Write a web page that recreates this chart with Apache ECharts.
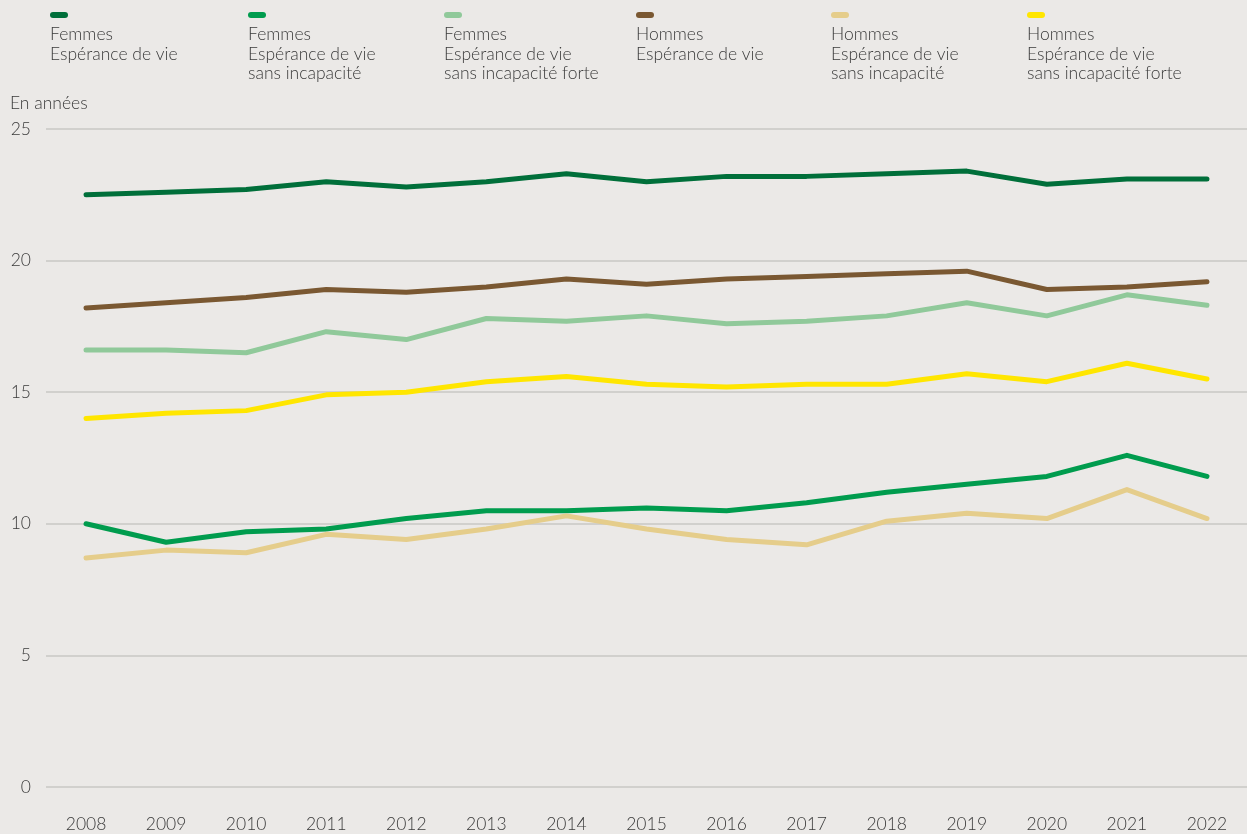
<!DOCTYPE html>
<html><head><meta charset="utf-8">
<script src="https://cdn.jsdelivr.net/npm/echarts@6/dist/echarts.min.js"></script>
<style>html,body{margin:0;padding:0;background:#ebe9e7}#c{width:1247px;height:834px}</style>
</head><body><div id="c"></div>
<script>
const years = ['2008','2009','2010','2011','2012','2013','2014','2015','2016','2017','2018','2019','2020','2021','2022'];
const seriesNames = [
  'Femmes\nEspérance de vie',
  'Femmes\nEspérance de vie\nsans incapacité',
  'Femmes\nEspérance de vie\nsans incapacité forte',
  'Hommes\nEspérance de vie',
  'Hommes\nEspérance de vie\nsans incapacité',
  'Hommes\nEspérance de vie\nsans incapacité forte'
];
const femmesEV     = [22.5,22.6,22.7,23.0,22.8,23.0,23.3,23.0,23.2,23.2,23.3,23.4,22.9,23.1,23.1];
const femmesEVSI   = [10.0,9.3,9.7,9.8,10.2,10.5,10.5,10.6,10.5,10.8,11.2,11.5,11.8,12.6,11.8];
const femmesEVSIF  = [16.6,16.6,16.5,17.3,17.0,17.8,17.7,17.9,17.6,17.7,17.9,18.4,17.9,18.7,18.3];
const hommesEV     = [18.2,18.4,18.6,18.9,18.8,19.0,19.3,19.1,19.3,19.4,19.5,19.6,18.9,19.0,19.2];
const hommesEVSI   = [8.7,9.0,8.9,9.6,9.4,9.8,10.3,9.8,9.4,9.2,10.1,10.4,10.2,11.3,10.2];
const hommesEVSIF  = [14.0,14.2,14.3,14.9,15.0,15.4,15.6,15.3,15.2,15.3,15.3,15.7,15.4,16.1,15.5];
const yTicks = [0,5,10,15,20,25];
const unitLabel = 'En années';

const colors = ['#006f3a','#009c4e','#90c99a','#7a5832','#e5cd8b','#ffe600'];
const dataSets = [femmesEV, femmesEVSI, femmesEVSIF, hommesEV, hommesEVSI, hommesEVSIF];
const legendX = [50,248,444,636,831,1027];
const font = 'Lato, "Open Sans", sans-serif';
const textColor = '#3a3a3a';

const graphics = [];
seriesNames.forEach((n,i)=>{
  graphics.push({type:'rect', left:legendX[i], top:12, shape:{width:18,height:6,r:3}, style:{fill:colors[i]}});
  graphics.push({type:'text', left:legendX[i], top:25, style:{text:n, font:'300 17.5px '+font, fill:textColor, lineHeight:19.5}});
});
graphics.push({type:'text', left:10, top:94, style:{text:unitLabel, font:'300 17.5px '+font, fill:textColor}});

const chart = echarts.init(document.getElementById('c'));
chart.setOption({
  backgroundColor:'#ebe9e7',
  animation:false,
  grid:{left:46,right:0,top:129,bottom:47,containLabel:false},
  graphic:graphics,
  xAxis:{type:'category',data:years,boundaryGap:true,
    axisLine:{show:false},axisTick:{show:false},
    axisLabel:{color:textColor,fontSize:17.5,fontFamily:font,fontWeight:300,margin:28}},
  yAxis:{type:'value',min:0,max:25,interval:5,
    axisLine:{show:false},axisTick:{show:false},
    splitLine:{lineStyle:{color:'#c9c7c5',width:1.5}},
    axisLabel:{color:textColor,fontSize:17.5,fontFamily:font,fontWeight:300,margin:15,
      formatter:v=>yTicks.includes(v)?String(v):''}},
  series:dataSets.map((d,i)=>({
    name:seriesNames[i],type:'line',data:d,symbol:'none',
    lineStyle:{color:colors[i],width:5,cap:'round',join:'round'},
    itemStyle:{color:colors[i]}
  }))
});
</script></body></html>
